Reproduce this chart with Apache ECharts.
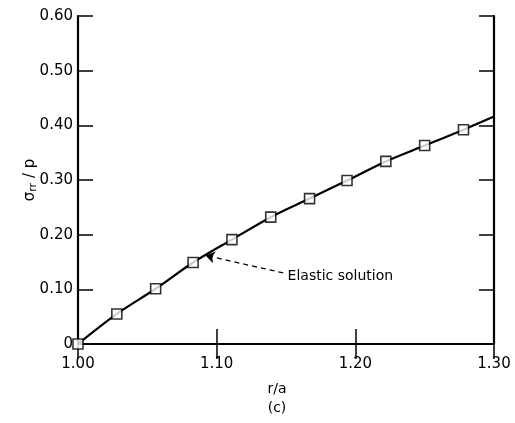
<!DOCTYPE html>
<html>
<head>
<meta charset="utf-8">
<script src="https://cdn.jsdelivr.net/npm/echarts@6/dist/echarts.min.js"></script>
<style>html,body{margin:0;padding:0;background:#fff;}#c{width:515px;height:423px;}</style>
</head>
<body>
<div id="c"></div>
<script>
// r/a positions of the square markers
const rRatio = [1.000, 1.028, 1.056, 1.083, 1.111, 1.139, 1.167, 1.194, 1.222, 1.250, 1.278];
// sigma_rr / p at those positions
const sigmaRR = [0.000, 0.055, 0.101, 0.149, 0.191, 0.232, 0.266, 0.299, 0.334, 0.363, 0.392];
// elastic solution curve (solid line)
const curveR = [1.000, 1.028, 1.056, 1.083, 1.111, 1.139, 1.167, 1.194, 1.222, 1.250, 1.278, 1.300];
const curveS = [0.000, 0.055, 0.101, 0.149, 0.191, 0.232, 0.266, 0.299, 0.334, 0.363, 0.392, 0.416];
const xTickLabels = ['1.00', '1.10', '1.20', '1.30'];
const yTickLabels = ['0', '0.10', '0.20', '0.30', '0.40', '0.50', '0.60'];
const annotationText = 'Elastic solution';
const annotationTextAt = [1.149, 0.123];
const annotationFrom = [1.148, 0.130];
const annotationTo = [1.092, 0.162];

const chart = echarts.init(document.getElementById('c'), null, {renderer: 'canvas'});
const font = 'DejaVu Sans';
const axisLine = {show: true, lineStyle: {color: '#000', width: 2.2}};
const tick = {show: true, inside: true, length: 15, lineStyle: {color: '#000', width: 1.5}};
chart.setOption({
  backgroundColor: '#fff',
  animation: false,
  grid: {left: 78, right: 21, top: 16, bottom: 77},
  xAxis: [{
    type: 'value', min: 1.0, max: 1.3, interval: 0.1, position: 'bottom',
    axisLine, axisTick: tick, splitLine: {show: false},
    axisLabel: {color: '#000', fontFamily: font, fontSize: 15, margin: 13,
      formatter: v => xTickLabels[Math.round((v - 1.0) / 0.1)]},
    name: 'r/a\n(c)', nameLocation: 'middle', nameGap: 36, nameMoveOverlap: false,
    nameTextStyle: {color: '#000', fontFamily: font, fontSize: 14, lineHeight: 19, padding: [0, 18, 0, 0]}
  }, {
    type: 'value', min: 1.0, max: 1.3, interval: 0.1, position: 'top',
    axisLine, axisTick: tick, axisLabel: {show: false}, splitLine: {show: false}
  }],
  yAxis: [{
    type: 'value', min: 0, max: 0.6, interval: 0.1, position: 'left',
    axisLine, axisTick: tick, splitLine: {show: false},
    axisLabel: {color: '#000', fontFamily: font, fontSize: 15, margin: 5,
      formatter: v => yTickLabels[Math.round(v / 0.1)]},
    name: '{s|σ}{sub|rr}{s| / p}', nameLocation: 'middle', nameGap: 39, nameRotate: 90,
    nameMoveOverlap: false,
    nameTextStyle: {color: '#000', rich: {
      s: {fontFamily: font, fontSize: 15, color: '#000'},
      sub: {fontFamily: font, fontSize: 11, color: '#000', verticalAlign: 'bottom', padding: [6, 0, 0, 0]}
    }}
  }, {
    type: 'value', min: 0, max: 0.6, interval: 0.1, position: 'right',
    axisLine, axisTick: tick, axisLabel: {show: false}, splitLine: {show: false}
  }],
  series: [{
    type: 'line', xAxisIndex: 0, yAxisIndex: 0,
    data: curveR.map((r, i) => [r, curveS[i]]),
    smooth: 0.3, showSymbol: false, symbol: 'none',
    lineStyle: {color: '#000', width: 2.2},
    markLine: {
      silent: true, symbol: ['none', 'arrow'], symbolSize: 9,
      lineStyle: {color: '#000', type: [5, 4], width: 1.3},
      itemStyle: {color: '#000'},
      label: {show: false},
      data: [[{coord: annotationFrom}, {coord: annotationTo}]]
    },
    markPoint: {
      silent: true, symbol: 'circle', symbolSize: 0,
      label: {show: true, position: 'right', distance: 3, formatter: annotationText,
        color: '#000', fontFamily: font, fontSize: 14},
      data: [{coord: annotationTextAt}]
    },
    z: 2
  }, {
    type: 'scatter', xAxisIndex: 0, yAxisIndex: 0,
    data: rRatio.map((r, i) => [r, sigmaRR[i]]),
    symbol: 'rect', symbolSize: 10,
    itemStyle: {color: '#fff', borderColor: '#000', borderWidth: 1.6},
    z: 3
  }]
});
</script>
</body>
</html>
